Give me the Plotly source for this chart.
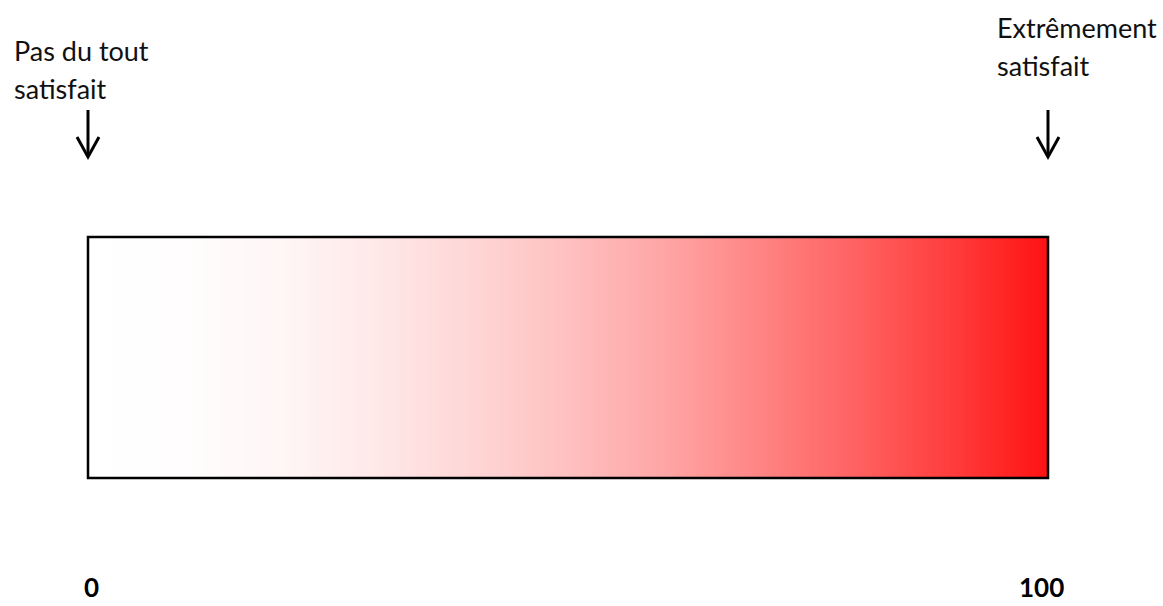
import plotly.graph_objects as go

# Scale endpoints and labels
scale_min = 0
scale_max = 100
left_label = ["Pas du tout", "satisfait"]
right_label = ["Extrêmement", "satisfait"]
end_labels = ["0", "100"]

# Gradient: positions along the scale and green/blue channel level (red stays 255)
grad_pos = [0, 10, 20, 30, 40, 50, 60, 70, 80, 90, 100]
grad_gb = [255, 253, 246, 232, 214, 192, 165, 132, 97, 60, 18]

colorscale = [[p / 100, f"rgb(255,{g},{g})"] for p, g in zip(grad_pos, grad_gb)]

fig = go.Figure()
fig.add_trace(go.Heatmap(
    x=grad_pos, y=[0, 1], z=[grad_pos, grad_pos],
    colorscale=colorscale, zmin=scale_min, zmax=scale_max,
    zsmooth="best", showscale=False, hoverinfo="skip",
))

FONT = "Lato"
fs = 27
W, H = 1163, 606
L, R, T, B = 88, W - 1048, 237, H - 478
pw = W - L - R
ph = H - T - B


def px(p):
    return (p - L) / pw


def py(p):
    return (H - B - p) / ph


txt = dict(family=FONT, size=fs, color="#111111")
ann = [
    dict(x=px(12), y=py(50), text=left_label[0], xanchor="left"),
    dict(x=px(12), y=py(88), text=left_label[1], xanchor="left"),
    dict(x=px(995), y=py(27), text=right_label[0], xanchor="left"),
    dict(x=px(995), y=py(65), text=right_label[1], xanchor="left"),
]
for a in ann:
    a.update(xref="paper", yref="paper", showarrow=False, yanchor="middle", font=txt)
ann.append(dict(x=px(91), y=py(587), xref="paper", yref="paper", text=f"<b>{end_labels[0]}</b>",
                showarrow=False, xanchor="center", yanchor="middle",
                font=dict(family=FONT, size=26, color="black")))
ann.append(dict(x=px(1041), y=py(587), xref="paper", yref="paper", text=f"<b>{end_labels[1]}</b>",
                showarrow=False, xanchor="center", yanchor="middle",
                font=dict(family=FONT, size=26, color="black")))

shapes = []
arrow_line = dict(color="black", width=3)
for xp in [88, 1048]:
    shapes.append(dict(type="line", xref="paper", yref="paper", x0=px(xp), x1=px(xp),
                       y0=py(110), y1=py(156), line=arrow_line))
    shapes.append(dict(type="path", xref="paper", yref="paper",
                       path=f"M {px(xp - 11)} {py(137)} L {px(xp)} {py(157)} L {px(xp + 11)} {py(137)}",
                       line=arrow_line))
shapes.append(dict(type="rect", xref="paper", yref="paper", x0=0, x1=1,
                   y0=0, y1=1, line=dict(color="black", width=2.5)))

fig.update_layout(
    width=W, height=H,
    margin=dict(l=L, r=R, t=T, b=B, pad=0),
    paper_bgcolor="white", plot_bgcolor="white",
    xaxis=dict(range=[scale_min, scale_max], visible=False, fixedrange=True),
    yaxis=dict(range=[0, 1], visible=False, fixedrange=True),
    annotations=ann, shapes=shapes, showlegend=False,
)
fig.write_html("out.html", config={"displayModeBar": False},
               post_script="document.body.style.margin='0';document.body.style.overflow='hidden';")
